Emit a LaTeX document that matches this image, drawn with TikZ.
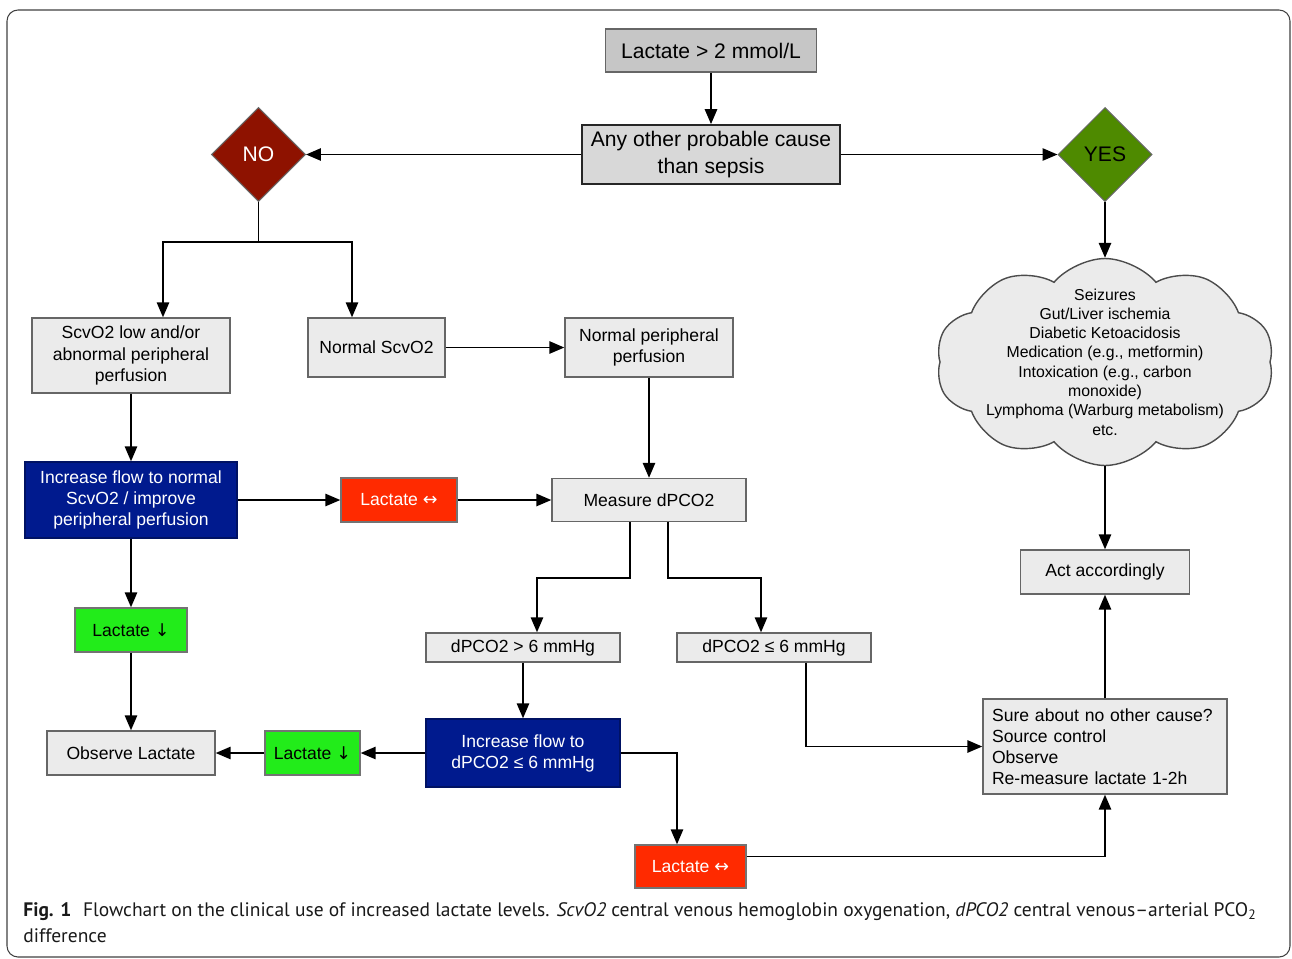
\documentclass[tikz,border=0pt]{standalone}
\usepackage{fontspec}
\setmainfont{Liberation Sans}
\newfontfamily\capfont{PT Sans}
\newfontfamily\symfont{DejaVu Sans}
\usetikzlibrary{shapes.geometric,shapes.symbols,arrows.meta}
\definecolor{boxgray}{HTML}{EBEBEB}
\definecolor{topgray}{HTML}{C6C6C6}
\definecolor{qgray}{HTML}{D8D8D8}
\definecolor{nored}{HTML}{8E1200}
\definecolor{yesgreen}{HTML}{4E8A00}
\definecolor{flowblue}{HTML}{001A8E}
\definecolor{lacred}{HTML}{FF2A00}
\definecolor{lacgreen}{HTML}{22EC1A}
\tikzset{
  box/.style={draw=black!60, line width=0.8pt, fill=boxgray, align=center, inner sep=0pt, font=\fontsize{10}{12}\selectfont},
  topbox/.style={box, fill=topgray, font=\fontsize{12}{14}\selectfont},
  qbox/.style={box, draw=black!85, line width=1pt, fill=qgray, font=\fontsize{12}{15}\selectfont},
  decision/.style={diamond, draw=black!60, line width=0.6pt, minimum width=1.88cm, minimum height=1.88cm, inner sep=0pt, font=\fontsize{12}{14}\selectfont},
  flow/.style={box, fill=flowblue, draw=flowblue!70!black, text=white},
  same/.style={box, fill=lacred, draw=black!55, text=white},
  down/.style={box, fill=lacgreen, draw=black!55},
  flowline/.style={-{Triangle[length=8.5pt,width=7pt]}, line width=1pt}
}
\begin{document}
\begin{tikzpicture}[x=0.02cm,y=-0.02cm]
\useasboundingbox (0,0) rectangle (1292,958);
\draw[rounded corners=0.22cm, draw=black!75, line width=0.6pt] (7,10) rectangle (1290,957);
\node[topbox, minimum width=4.22cm, minimum height=0.86cm] (start) at (711,50.5) {Lactate > 2 mmol/L};
\node[qbox, minimum width=5.16cm, minimum height=1.18cm] (cause) at (711,154.5) {Any other probable cause\\than sepsis};
\node[decision, fill=nored, text=white] (no) at (258.5,154.5) {NO};
\node[decision, fill=yesgreen] (yes) at (1105,154.5) {YES};
\node[box, minimum width=3.96cm, minimum height=1.5cm] (lowscv) at (131,355.5) {ScvO2 low and/or\\abnormal peripheral\\perfusion};
\node[box, minimum width=2.74cm, minimum height=1.18cm] (normscv) at (376.5,347.5) {Normal ScvO2};
\node[box, minimum width=3.36cm, minimum height=1.18cm] (normperf) at (649,347.5) {Normal peripheral\\perfusion};
\node[cloud, cloud puffs=10, cloud puff arc=100, cloud ignores aspect, draw=black!70, line width=0.8pt, fill=boxgray, minimum width=6.76cm, minimum height=4.14cm] (causes) at (1105,362) {};
\node[align=center, font=\fontsize{9}{11}\selectfont] (causelist) at (causes.center) {Seizures\\Gut/Liver ischemia\\Diabetic Ketoacidosis\\Medication (e.g., metformin)\\Intoxication (e.g., carbon\\monoxide)\\Lymphoma (Warburg metabolism)\\etc.};
\node[flow, minimum width=4.24cm, minimum height=1.52cm] (flowscv) at (131,500) {Increase flow to normal\\ScvO2 / improve\\peripheral perfusion};
\node[same, minimum width=2.32cm, minimum height=0.88cm] (same1) at (399,500) {Lactate {\symfont ↔}};
\node[box, minimum width=3.88cm, minimum height=0.86cm] (measure) at (649,500) {Measure dPCO2};
\node[box, minimum width=3.38cm, minimum height=0.88cm] (act) at (1105,572) {Act accordingly};
\node[down, minimum width=2.24cm, minimum height=0.88cm] (down1) at (131,630) {Lactate {\symfont ↓}};
\node[box, minimum width=3.88cm, minimum height=0.58cm] (high) at (523,647.5) {dPCO2 > 6 mmHg};
\node[box, minimum width=3.88cm, minimum height=0.58cm] (low) at (774,647.5) {dPCO2 ≤ 6 mmHg};
\node[box, minimum width=3.36cm, minimum height=0.88cm] (observe) at (131,753) {Observe Lactate};
\node[down, minimum width=1.9cm, minimum height=0.88cm] (down2) at (312.5,753) {Lactate {\symfont ↓}};
\node[flow, minimum width=3.88cm, minimum height=1.36cm] (flowpco) at (523,753) {Increase flow to\\dPCO2 ≤ 6 mmHg};
\node[box, align=left, text width=4.52cm, inner xsep=0.18cm, minimum height=1.9cm] (sure) at (1105,746.5) {Sure about no other cause?\\Source control\\Observe\\Re-measure lactate 1-2h};
\node[same, minimum width=2.22cm, minimum height=0.86cm] (same2) at (690.5,866.5) {Lactate {\symfont ↔}};
\node[anchor=north west, align=left, inner sep=0pt, text=black!90, font=\capfont\fontsize{11.1}{14.7}\selectfont] (caption) at (23,902) {\textbf{Fig. 1}\hspace{0.6em}Flowchart on the clinical use of increased lactate levels. \textit{ScvO2} central venous hemoglobin oxygenation, \textit{dPCO2} central venous–arterial PCO\textsubscript{2}\\difference};
\draw[flowline] (start) -- (cause);
\draw[flowline] (cause) -- (no);
\draw[flowline] (cause) -- (yes);
\draw[flowline] (no.south) -- ++(0,40) -| ([xshift=0.64cm]lowscv.north);
\draw[flowline] (no.south) -- ++(0,40) -| ([xshift=-0.49cm]normscv.north);
\draw[flowline] (normscv) -- (normperf);
\draw[flowline] (yes) -- (causes);
\draw[flowline] (lowscv) -- (flowscv);
\draw[flowline] (normperf) -- (measure);
\draw[flowline] (flowscv) -- (same1);
\draw[flowline] (same1) -- (measure);
\draw[flowline] (flowscv) -- (down1);
\draw[flowline] (down1) -- (observe);
\draw[flowline] ([xshift=-0.38cm]measure.south) -- ++(0,56) -| ([xshift=0.28cm]high.north);
\draw[flowline] ([xshift=0.38cm]measure.south) -- ++(0,56) -| ([xshift=-0.26cm]low.north);
\draw[flowline] (high) -- (flowpco);
\draw[flowline] (flowpco) -- (down2);
\draw[flowline] (down2) -- (observe);
\draw[flowline] (flowpco.east) -| ([xshift=-0.27cm]same2.north);
\draw[flowline] ([xshift=0.64cm]low.south) |- (sure.west);
\draw[flowline] ([yshift=0.2cm]same2.east) -| (sure.south);
\draw[flowline] (sure) -- (act);
\draw[flowline] (causes) -- (act);
\end{tikzpicture}
\end{document}
